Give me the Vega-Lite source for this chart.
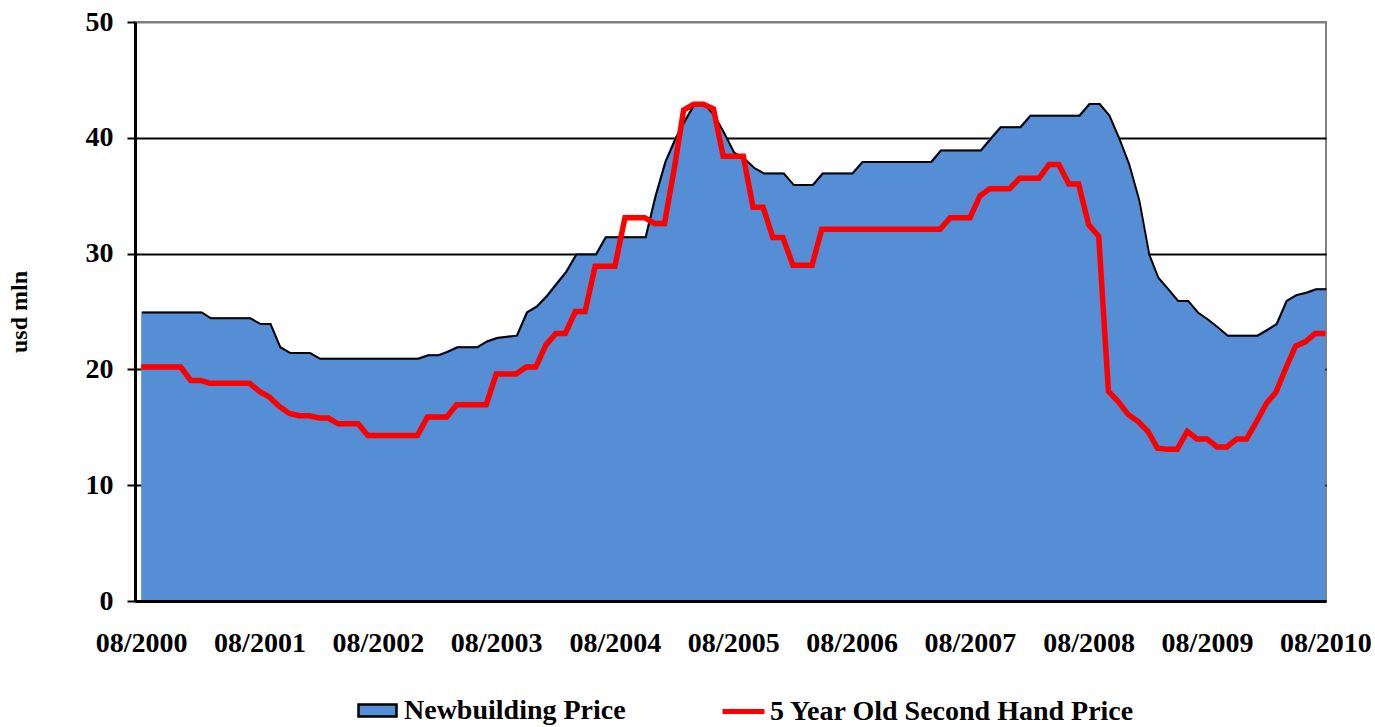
{
  "$schema": "https://vega.github.io/schema/vega-lite/v6.json",
  "width": 1191,
  "height": 579,
  "autosize": {"type": "none"},
  "padding": {"left": 135, "top": 22, "right": 49, "bottom": 126},
  "background": "white",
  "config": {
    "view": {"stroke": "#808080", "strokeWidth": 2},
    "font": "Liberation Serif"
  },
  "data": {
    "values": [
      {"month": "2000-08-01", "newbuilding": 25, "secondhand": 20.2},
      {"month": "2000-09-01", "newbuilding": 25, "secondhand": 20.2},
      {"month": "2000-10-01", "newbuilding": 25, "secondhand": 20.2},
      {"month": "2000-11-01", "newbuilding": 25, "secondhand": 20.2},
      {"month": "2000-12-01", "newbuilding": 25, "secondhand": 20.2},
      {"month": "2001-01-01", "newbuilding": 25, "secondhand": 19.05},
      {"month": "2001-02-01", "newbuilding": 25, "secondhand": 19.05},
      {"month": "2001-03-01", "newbuilding": 24.5, "secondhand": 18.8},
      {"month": "2001-04-01", "newbuilding": 24.5, "secondhand": 18.8},
      {"month": "2001-05-01", "newbuilding": 24.5, "secondhand": 18.8},
      {"month": "2001-06-01", "newbuilding": 24.5, "secondhand": 18.8},
      {"month": "2001-07-01", "newbuilding": 24.5, "secondhand": 18.8},
      {"month": "2001-08-01", "newbuilding": 24, "secondhand": 18.1},
      {"month": "2001-09-01", "newbuilding": 24, "secondhand": 17.6},
      {"month": "2001-10-01", "newbuilding": 22, "secondhand": 16.8},
      {"month": "2001-11-01", "newbuilding": 21.5, "secondhand": 16.2},
      {"month": "2001-12-01", "newbuilding": 21.5, "secondhand": 16.0},
      {"month": "2002-01-01", "newbuilding": 21.5, "secondhand": 16.0},
      {"month": "2002-02-01", "newbuilding": 21, "secondhand": 15.8},
      {"month": "2002-03-01", "newbuilding": 21, "secondhand": 15.8},
      {"month": "2002-04-01", "newbuilding": 21, "secondhand": 15.3},
      {"month": "2002-05-01", "newbuilding": 21, "secondhand": 15.3},
      {"month": "2002-06-01", "newbuilding": 21, "secondhand": 15.3},
      {"month": "2002-07-01", "newbuilding": 21, "secondhand": 14.3},
      {"month": "2002-08-01", "newbuilding": 21, "secondhand": 14.3},
      {"month": "2002-09-01", "newbuilding": 21, "secondhand": 14.3},
      {"month": "2002-10-01", "newbuilding": 21, "secondhand": 14.3},
      {"month": "2002-11-01", "newbuilding": 21, "secondhand": 14.3},
      {"month": "2002-12-01", "newbuilding": 21, "secondhand": 14.3},
      {"month": "2003-01-01", "newbuilding": 21.3, "secondhand": 15.9},
      {"month": "2003-02-01", "newbuilding": 21.3, "secondhand": 15.9},
      {"month": "2003-03-01", "newbuilding": 21.6, "secondhand": 15.9},
      {"month": "2003-04-01", "newbuilding": 22, "secondhand": 16.95},
      {"month": "2003-05-01", "newbuilding": 22, "secondhand": 16.95},
      {"month": "2003-06-01", "newbuilding": 22, "secondhand": 16.95},
      {"month": "2003-07-01", "newbuilding": 22.5, "secondhand": 16.95},
      {"month": "2003-08-01", "newbuilding": 22.8, "secondhand": 19.6},
      {"month": "2003-09-01", "newbuilding": 22.9, "secondhand": 19.6},
      {"month": "2003-10-01", "newbuilding": 23, "secondhand": 19.6},
      {"month": "2003-11-01", "newbuilding": 25, "secondhand": 20.2},
      {"month": "2003-12-01", "newbuilding": 25.5, "secondhand": 20.2},
      {"month": "2004-01-01", "newbuilding": 26.4, "secondhand": 22.1},
      {"month": "2004-02-01", "newbuilding": 27.5, "secondhand": 23.1},
      {"month": "2004-03-01", "newbuilding": 28.5, "secondhand": 23.1},
      {"month": "2004-04-01", "newbuilding": 30, "secondhand": 25.0},
      {"month": "2004-05-01", "newbuilding": 30, "secondhand": 25.0},
      {"month": "2004-06-01", "newbuilding": 30, "secondhand": 28.9},
      {"month": "2004-07-01", "newbuilding": 31.5, "secondhand": 28.9},
      {"month": "2004-08-01", "newbuilding": 31.5, "secondhand": 28.9},
      {"month": "2004-09-01", "newbuilding": 31.5, "secondhand": 33.1},
      {"month": "2004-10-01", "newbuilding": 31.5, "secondhand": 33.1},
      {"month": "2004-11-01", "newbuilding": 31.5, "secondhand": 33.1},
      {"month": "2004-12-01", "newbuilding": 35, "secondhand": 32.6},
      {"month": "2005-01-01", "newbuilding": 38, "secondhand": 32.6},
      {"month": "2005-02-01", "newbuilding": 40, "secondhand": 37.5},
      {"month": "2005-03-01", "newbuilding": 41.5, "secondhand": 42.4},
      {"month": "2005-04-01", "newbuilding": 43, "secondhand": 42.9},
      {"month": "2005-05-01", "newbuilding": 43, "secondhand": 42.9},
      {"month": "2005-06-01", "newbuilding": 42, "secondhand": 42.5},
      {"month": "2005-07-01", "newbuilding": 40.5, "secondhand": 38.4},
      {"month": "2005-08-01", "newbuilding": 38.8, "secondhand": 38.4},
      {"month": "2005-09-01", "newbuilding": 38.3, "secondhand": 38.4},
      {"month": "2005-10-01", "newbuilding": 37.5, "secondhand": 34.0},
      {"month": "2005-11-01", "newbuilding": 37, "secondhand": 34.0},
      {"month": "2005-12-01", "newbuilding": 37, "secondhand": 31.4},
      {"month": "2006-01-01", "newbuilding": 37, "secondhand": 31.4},
      {"month": "2006-02-01", "newbuilding": 36, "secondhand": 29.0},
      {"month": "2006-03-01", "newbuilding": 36, "secondhand": 29.0},
      {"month": "2006-04-01", "newbuilding": 36, "secondhand": 29.0},
      {"month": "2006-05-01", "newbuilding": 37, "secondhand": 32.1},
      {"month": "2006-06-01", "newbuilding": 37, "secondhand": 32.1},
      {"month": "2006-07-01", "newbuilding": 37, "secondhand": 32.1},
      {"month": "2006-08-01", "newbuilding": 37, "secondhand": 32.1},
      {"month": "2006-09-01", "newbuilding": 38, "secondhand": 32.1},
      {"month": "2006-10-01", "newbuilding": 38, "secondhand": 32.1},
      {"month": "2006-11-01", "newbuilding": 38, "secondhand": 32.1},
      {"month": "2006-12-01", "newbuilding": 38, "secondhand": 32.1},
      {"month": "2007-01-01", "newbuilding": 38, "secondhand": 32.1},
      {"month": "2007-02-01", "newbuilding": 38, "secondhand": 32.1},
      {"month": "2007-03-01", "newbuilding": 38, "secondhand": 32.1},
      {"month": "2007-04-01", "newbuilding": 38, "secondhand": 32.1},
      {"month": "2007-05-01", "newbuilding": 39, "secondhand": 32.1},
      {"month": "2007-06-01", "newbuilding": 39, "secondhand": 33.1},
      {"month": "2007-07-01", "newbuilding": 39, "secondhand": 33.1},
      {"month": "2007-08-01", "newbuilding": 39, "secondhand": 33.1},
      {"month": "2007-09-01", "newbuilding": 39, "secondhand": 35.0},
      {"month": "2007-10-01", "newbuilding": 40, "secondhand": 35.6},
      {"month": "2007-11-01", "newbuilding": 41, "secondhand": 35.6},
      {"month": "2007-12-01", "newbuilding": 41, "secondhand": 35.6},
      {"month": "2008-01-01", "newbuilding": 41, "secondhand": 36.5},
      {"month": "2008-02-01", "newbuilding": 42, "secondhand": 36.5},
      {"month": "2008-03-01", "newbuilding": 42, "secondhand": 36.5},
      {"month": "2008-04-01", "newbuilding": 42, "secondhand": 37.7},
      {"month": "2008-05-01", "newbuilding": 42, "secondhand": 37.7},
      {"month": "2008-06-01", "newbuilding": 42, "secondhand": 36.0},
      {"month": "2008-07-01", "newbuilding": 42, "secondhand": 36.0},
      {"month": "2008-08-01", "newbuilding": 43, "secondhand": 32.5},
      {"month": "2008-09-01", "newbuilding": 43, "secondhand": 31.5},
      {"month": "2008-10-01", "newbuilding": 42, "secondhand": 18.1},
      {"month": "2008-11-01", "newbuilding": 40, "secondhand": 17.2},
      {"month": "2008-12-01", "newbuilding": 37.8, "secondhand": 16.1},
      {"month": "2009-01-01", "newbuilding": 34.7, "secondhand": 15.5},
      {"month": "2009-02-01", "newbuilding": 30, "secondhand": 14.6},
      {"month": "2009-03-01", "newbuilding": 28, "secondhand": 13.2},
      {"month": "2009-04-01", "newbuilding": 27, "secondhand": 13.1},
      {"month": "2009-05-01", "newbuilding": 26, "secondhand": 13.1},
      {"month": "2009-06-01", "newbuilding": 26, "secondhand": 14.65},
      {"month": "2009-07-01", "newbuilding": 25, "secondhand": 14.0},
      {"month": "2009-08-01", "newbuilding": 24.4, "secondhand": 14.0},
      {"month": "2009-09-01", "newbuilding": 23.7, "secondhand": 13.3},
      {"month": "2009-10-01", "newbuilding": 23, "secondhand": 13.3},
      {"month": "2009-11-01", "newbuilding": 23, "secondhand": 14.0},
      {"month": "2009-12-01", "newbuilding": 23, "secondhand": 14.0},
      {"month": "2010-01-01", "newbuilding": 23, "secondhand": 15.5},
      {"month": "2010-02-01", "newbuilding": 23.5, "secondhand": 17.1},
      {"month": "2010-03-01", "newbuilding": 24, "secondhand": 18.0},
      {"month": "2010-04-01", "newbuilding": 26, "secondhand": 20.1},
      {"month": "2010-05-01", "newbuilding": 26.5, "secondhand": 22.0},
      {"month": "2010-06-01", "newbuilding": 26.7, "secondhand": 22.4},
      {"month": "2010-07-01", "newbuilding": 27, "secondhand": 23.1},
      {"month": "2010-08-01", "newbuilding": 27, "secondhand": 23.1}
    ]
  },
  "encoding": {
    "x": {
      "field": "month",
      "type": "temporal",
      "scale": {
        "type": "utc",
        "domain": [
          {"year": 2000, "month": 7, "date": 13, "utc": true},
          {"year": 2010, "month": 8, "date": 3, "utc": true}
        ]
      },
      "axis": {
        "title": null,
        "values": [
          {"year": 2000, "month": 8, "date": 1, "utc": true},
          {"year": 2001, "month": 8, "date": 1, "utc": true},
          {"year": 2002, "month": 8, "date": 1, "utc": true},
          {"year": 2003, "month": 8, "date": 1, "utc": true},
          {"year": 2004, "month": 8, "date": 1, "utc": true},
          {"year": 2005, "month": 8, "date": 1, "utc": true},
          {"year": 2006, "month": 8, "date": 1, "utc": true},
          {"year": 2007, "month": 8, "date": 1, "utc": true},
          {"year": 2008, "month": 8, "date": 1, "utc": true},
          {"year": 2009, "month": 8, "date": 1, "utc": true},
          {"year": 2010, "month": 8, "date": 1, "utc": true}
        ],
        "labelExpr": "utcFormat(datum.value, '%m/%Y')",
        "labelFont": "Liberation Serif",
        "labelFontSize": 28,
        "labelFontWeight": "bold",
        "labelColor": "black",
        "labelAngle": 0,
        "labelFlush": false,
        "labelOverlap": false,
        "labelPadding": 28,
        "ticks": false,
        "grid": false,
        "domainColor": "black",
        "domainWidth": 3,
        "zindex": 1
      }
    }
  },
  "layer": [
    {
      "mark": {"type": "area", "interpolate": "linear"},
      "encoding": {
        "y": {
          "field": "newbuilding",
          "type": "quantitative",
          "scale": {"domain": [0, 50], "nice": false, "zero": true},
          "axis": {
            "title": "usd mln",
            "values": [0, 10, 20, 30, 40, 50],
            "labelFont": "Liberation Serif",
            "labelFontSize": 28,
            "labelFontWeight": "bold",
            "labelColor": "black",
            "labelPadding": 14,
            "tickSize": 8,
            "tickColor": "black",
            "tickWidth": 2,
            "domainColor": "black",
            "domainWidth": 3,
            "grid": true,
            "gridColor": {"condition": {"test": "datum.value === 50", "value": "#808080"}, "value": "black"},
            "gridWidth": 2,
            "gridOpacity": 1,
            "titleFont": "Liberation Serif",
            "titleFontSize": 24,
            "titleFontWeight": "bold",
            "titleColor": "black",
            "titlePadding": 54,
            "zindex": 0
          }
        },
        "fill": {
          "datum": "Newbuilding Price",
          "type": "nominal",
          "scale": {"domain": ["Newbuilding Price"], "range": ["#558ED5"]},
          "legend": {
            "title": null,
            "orient": "none",
            "legendX": 222,
            "legendY": 668,
            "direction": "horizontal",
            "padding": 0,
            "symbolType": "M-1,-0.32H1V0.32H-1Z",
            "symbolSize": 1444,
            "symbolStrokeColor": "black",
            "symbolStrokeWidth": 2.5,
            "symbolOpacity": 1,
            "labelFont": "Liberation Serif",
            "labelFontSize": 28,
            "labelFontWeight": "bold",
            "labelColor": "black",
            "labelOffset": 6,
            "labelLimit": 0
          }
        }
      }
    },
    {
      "mark": {"type": "line", "stroke": "black", "strokeWidth": 2, "xOffset": 1, "yOffset": 1},
      "encoding": {
        "y": {"field": "newbuilding", "type": "quantitative"}
      }
    },
    {
      "mark": {"type": "line", "strokeWidth": 5.5},
      "encoding": {
        "y": {"field": "secondhand", "type": "quantitative"},
        "stroke": {
          "datum": "5 Year Old Second Hand Price",
          "type": "nominal",
          "scale": {"domain": ["5 Year Old Second Hand Price"], "range": ["#FF0000"]},
          "legend": {
            "title": null,
            "orient": "none",
            "legendX": 585,
            "legendY": 666,
            "direction": "horizontal",
            "padding": 0,
            "symbolType": "stroke",
            "symbolSize": 1764,
            "symbolStrokeWidth": 5,
            "labelFont": "Liberation Serif",
            "labelFontSize": 28,
            "labelFontWeight": "bold",
            "labelColor": "black",
            "labelOffset": 3,
            "labelLimit": 0
          }
        }
      }
    }
  ]
}
